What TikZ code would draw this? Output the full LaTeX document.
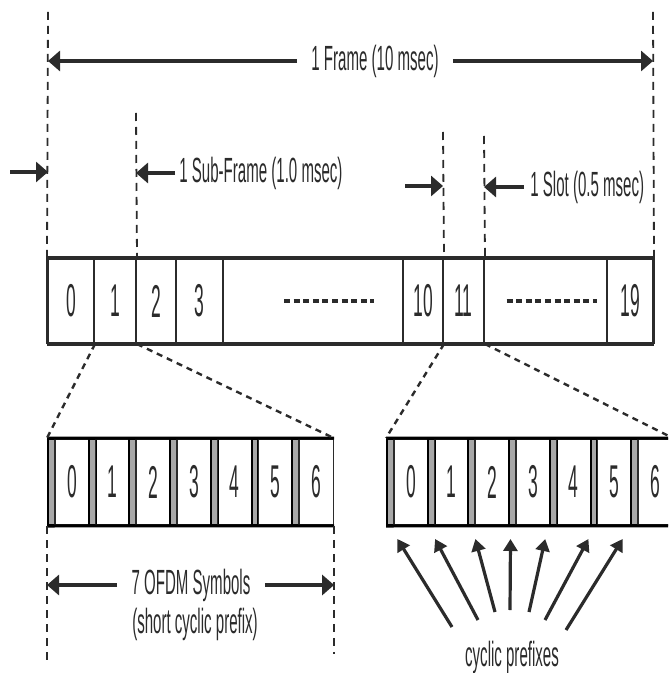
\documentclass[tikz,border=0pt]{standalone}
\usepackage{fontspec}
\setmainfont{Liberation Sans}[FakeStretch=0.43]
\newfontfamily\digitfont{Liberation Sans}[FakeStretch=0.38]
\usetikzlibrary{arrows.meta, positioning}
\definecolor{InkGray}{HTML}{2B2B2B}
\definecolor{PrefixGray}{HTML}{A8A8A8}

\tikzset{
  dimline/.style={-{Triangle[length=6pt,width=10pt]}, line width=2pt, InkGray},
  guide/.style={line width=0.9pt, dash pattern=on 4pt off 3pt, InkGray},
  zoomline/.style={line width=1.2pt, dash pattern=on 3pt off 2.5pt, InkGray},
  cpline/.style={-{Triangle[length=6pt,width=7pt]}, line width=1.6pt, InkGray},
  lbl/.style={font=\fontsize{17.5}{19}\selectfont, text=InkGray, inner sep=0pt},
  slotcell/.style={draw=InkGray, line width=1pt, minimum height=42pt, inner sep=0pt,
                   font=\digitfont\fontsize{23}{25}\selectfont, text=InkGray},
  cpbar/.style={draw=black, fill=PrefixGray, line width=1pt, minimum width=3.4pt,
                minimum height=43pt, inner sep=0pt},
  symcell/.style={draw=InkGray, line width=0.8pt, minimum width=17.15pt, minimum height=43pt,
                  inner sep=0pt, font=\digitfont\fontsize{23}{25}\selectfont, text=InkGray},
}

\begin{document}
\begin{tikzpicture}[x=0.5pt, y=-0.5pt]
\useasboundingbox (0,0) rectangle (668,673);
\clip (0,0) rectangle (668,673);

% ── Frame of 20 slots ─────────────────────────────────────────────────────────
\foreach \n/\a/\b/\t in {0/48/94/0, 1/94/136/1, 2/136/176/2, 3/176/223/3, 4/223/403/{},
                         5/403/443/10, 6/443/484/11, 7/484/607/{}, 8/607/653/19}{
  \node[slotcell, minimum width={(\b-\a)*0.5pt}] (f\n) at ({(\a+\b)/2}, 301) {\t};
}
\draw[InkGray, line width=2pt] (f0.north west) -- (f8.north east);
\draw[InkGray, line width=2pt] (f0.south west) -- (f8.south east);
\draw[InkGray, line width=1.4pt] (f0.north west) -- (f0.south west);
\draw[InkGray, line width=1.4pt] (f8.north east) -- (f8.south east);
\draw[InkGray, line width=2pt, dash pattern=on 3pt off 1.8pt]
  ([xshift=-22pt]f4.center) ++(15,0) -- ++(90,0);
\draw[InkGray, line width=2pt, dash pattern=on 3pt off 1.8pt]
  ([xshift=-22pt]f7.center) ++(5,0) -- ++(90,0);

% ── Guides ────────────────────────────────────────────────────────────────────
\coordinate (gL) at (48,12);
\coordinate (gR) at (653,12);
\coordinate (gS) at (136,113);
\coordinate (gA) at (443,132);
\coordinate (gB) at (484,136);
\draw[guide] (gL) -- (f0.north west);
\draw[guide] (gR) -- (f8.north east);
\draw[guide] (gS) -- (f1.north east);
\draw[guide] (gA) -- (f5.north east);
\draw[guide] (gB) -- (f6.north east);

% ── Durations ─────────────────────────────────────────────────────────────────
\node[lbl, inner xsep=7pt] (frame) at (375,61) {1 Frame (10 msec)};
\draw[dimline] (frame.west) -- (frame.west -| gL);
\draw[dimline] (frame.east) -- (frame.east -| gR);

\node[lbl, anchor=west] (subfr) at (179,173) {1 Sub-Frame (1.0 msec)};
\draw[dimline] ([xshift=-2pt]subfr.west) -- (subfr.west -| gS);
\coordinate (inL) at (10,172);
\draw[dimline] (inL) -- (inL -| gL);

\node[lbl, anchor=west] (slot) at (530,187) {1 Slot (0.5 msec)};
\draw[dimline] ([xshift=-3pt]slot.west) -- (slot.west -| gB);
\coordinate (inS) at (405,186);
\draw[dimline] (inS) -- (inS -| gA);

% ── Slot 1: short cyclic prefix ───────────────────────────────────────────────
\foreach \k in {0,...,6}{
  \node[cpbar] (lb\k) at ({48+40.7*\k+3.4}, 482) {};
  \node[symcell] (ls\k) at ({48+40.7*\k+6.8+17.15}, 482) {\k};
}
\draw[black, line width=1.5pt] (lb0.north west) -- (ls6.north east);
\draw[black, line width=1.5pt] (lb0.south west) -- (ls6.south east);

\draw[zoomline] (f0.south east) -- (lb0.north west);
\draw[zoomline] (f1.south east) -- (ls6.north east);

\draw[guide] (lb0.south west) -- ++(0,138);
\draw[guide] (ls6.south east) -- ++(0,128);
\node[lbl, inner xsep=7pt] (ofdm) at (191,585) {7 OFDM Symbols};
\node[lbl] (short) at (195,624) {(short cyclic prefix)};
\draw[dimline] (ofdm.west) -- (ofdm.west -| lb0.west);
\draw[dimline] (ofdm.east) -- (ofdm.east -| ls6.east);

% ── Slot 11: prefixes pointed out ─────────────────────────────────────────────
\foreach \k in {0,...,6}{
  \node[cpbar] (rb\k) at ({387+40.7*\k+3.4}, 482) {};
  \node[symcell] (rs\k) at ({387+40.7*\k+6.8+17.15}, 482) {\k};
}
\draw[black, line width=1.5pt] (rb0.north west) -- (rs6.north east);
\draw[black, line width=1.5pt] (rb0.south west) -- (rs6.south east);

\draw[zoomline] (f5.south east) -- (rb0.north west);
\draw[zoomline] (f6.south east) -- (rs6.north east);

\node[lbl] (cp) at (512,657) {cyclic prefixes};
\foreach \k/\dx/\tx/\ty in {0/7/452/627, 1/4/478/620, 2/3.6/495/612, 3/-2/510/610,
                            4/-8/529/612, 5/-5.5/545/620, 6/-12/566/630}{
  \coordinate (t\k) at (\tx,\ty);
  \draw[cpline] (t\k) -- ([xshift={\dx*0.5pt}, yshift=-6.5pt]rb\k.south);
}

\end{tikzpicture}
\end{document}
